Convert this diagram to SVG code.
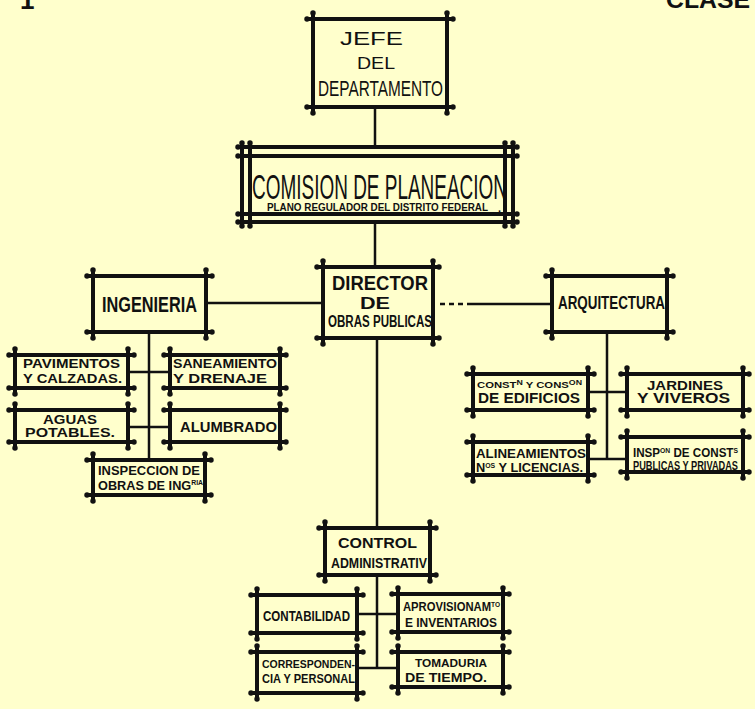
<svg xmlns="http://www.w3.org/2000/svg" width="755" height="709" viewBox="0 0 755 709">
<style>
.f{fill:none;stroke:#111;stroke-width:4;marker-start:url(#dot);marker-mid:url(#dot);marker-end:url(#dot)}
.c{fill:none;stroke:#111;stroke-width:2.5}
.t{font-family:"Liberation Sans","DejaVu Sans",sans-serif;fill:#111;font-weight:bold}
.n{font-weight:normal}
.sup{font-size:7px}
</style>
<defs>
<marker id="dot" viewBox="-2 -2 4 4" markerWidth="1.7" markerHeight="1.7" markerUnits="strokeWidth" orient="auto">
<circle cx="0" cy="0" r="1.6" fill="#111"/>
</marker>
</defs>
<rect x="0" y="0" width="755" height="709" fill="#ffffcc"/>
<text class="t" x="20" y="9" font-size="26">1</text>
<text class="t" x="666" y="8" font-size="24" textLength="84" lengthAdjust="spacingAndGlyphs">CLASE</text>

<g id="connectors">
<path class="c" d="M375,107 V147 M375,222 V267"/>
<path class="c" d="M206,303 H323"/>
<path class="c" d="M440,304 H470" stroke-dasharray="5,4" stroke-width="1.4"/>
<path class="c" d="M470,304 H552" stroke-width="1.3"/>
<path class="c" d="M149,332 V460 M128,372 H170 M128,427 H170"/>
<path class="c" d="M607,332 V459 M588,392 H627 M588,459 H627"/>
<path class="c" d="M377,338 V528 M377,575 V668 M357,614 H398 M357,668 H398"/>
</g>

<g id="jefe">
<path class="f" d="M307,19 H453 M307,107 H453 M313,13 V113 M447,13 V113"/>
<text class="t n" x="340" y="45" font-size="18" textLength="63" lengthAdjust="spacingAndGlyphs">JEFE</text>
<text class="t n" x="357" y="69" font-size="16" textLength="38" lengthAdjust="spacingAndGlyphs">DEL</text>
<text class="t n" x="318" y="96" font-size="22" textLength="125" lengthAdjust="spacingAndGlyphs">DEPARTAMENTO</text>
</g>

<g id="comision">
<path class="f" d="M238,147 H517 M238,222 H517 M242,143 V226 M513,143 V226"/>
<path class="f" d="M238,156 H517 M238,214 H517 M250,143 V226 M505,143 V226"/>
<text class="t n" x="252" y="199" font-size="35" textLength="255" lengthAdjust="spacingAndGlyphs">COMISION DE PLANEACION</text>
<text class="t" x="267" y="211" font-size="11" textLength="221" lengthAdjust="spacingAndGlyphs">PLANO REGULADOR DEL DISTRITO FEDERAL</text>
<text class="t" x="498" y="212" font-size="11">.</text>
</g>

<g id="ingenieria">
<path class="f" d="M87,276 H212 M87,332 H212 M93,270 V338 M206,270 V338"/>
<text class="t" x="102" y="312" font-size="22" textLength="95" lengthAdjust="spacingAndGlyphs">INGENIERIA</text>
</g>

<g id="director">
<path class="f" d="M317,267 H439 M317,338 H439 M323,261 V344 M433,261 V344"/>
<text class="t" x="332" y="290" font-size="20" textLength="96" lengthAdjust="spacingAndGlyphs">DIRECTOR</text>
<text class="t" x="360" y="309" font-size="17" textLength="30" lengthAdjust="spacingAndGlyphs">DE</text>
<text class="t" x="328" y="327" font-size="16" textLength="104" lengthAdjust="spacingAndGlyphs">OBRAS PUBLICAS</text>
</g>

<g id="arquitectura">
<path class="f" d="M546,276 H673 M546,332 H673 M552,270 V338 M667,270 V338"/>
<text class="t" x="558" y="309" font-size="19" textLength="107" lengthAdjust="spacingAndGlyphs">ARQUITECTURA</text>
</g>

<g id="pavimentos">
<path class="f" d="M9,355 H134 M9,388 H134 M15,349 V394 M128,349 V394"/>
<text class="t" x="23" y="368" font-size="12" textLength="97" lengthAdjust="spacingAndGlyphs">PAVIMENTOS</text>
<text class="t" x="23" y="383" font-size="12" textLength="99" lengthAdjust="spacingAndGlyphs">Y CALZADAS.</text>
</g>

<g id="saneamiento">
<path class="f" d="M164,355 H286 M164,388 H286 M170,349 V394 M280,349 V394"/>
<text class="t" x="173" y="368" font-size="12" textLength="104" lengthAdjust="spacingAndGlyphs">SANEAMIENTO</text>
<text class="t" x="173" y="383" font-size="12" textLength="94" lengthAdjust="spacingAndGlyphs">Y DRENAJE</text>
</g>

<g id="aguas">
<path class="f" d="M9,410 H134 M9,442 H134 M15,404 V448 M128,404 V448"/>
<text class="t" x="43" y="424" font-size="12" textLength="54" lengthAdjust="spacingAndGlyphs">AGUAS</text>
<text class="t" x="25" y="437" font-size="12" textLength="90" lengthAdjust="spacingAndGlyphs">POTABLES.</text>
</g>

<g id="alumbrado">
<path class="f" d="M164,410 H286 M164,442 H286 M170,404 V448 M280,404 V448"/>
<text class="t" x="180" y="432" font-size="14" textLength="97" lengthAdjust="spacingAndGlyphs">ALUMBRADO</text>
</g>

<g id="inspeccion">
<path class="f" d="M87,460 H211 M87,495 H211 M93,454 V501 M205,454 V501"/>
<text class="t" x="98" y="475" font-size="13" textLength="102" lengthAdjust="spacingAndGlyphs">INSPECCION DE</text>
<text class="t" x="98" y="490" font-size="13" textLength="105" lengthAdjust="spacingAndGlyphs">OBRAS DE ING<tspan class="sup" dy="-5">RIA</tspan></text>
</g>

<g id="construccion">
<path class="f" d="M467,374 H594 M467,410 H594 M473,368 V416 M588,368 V416"/>
<text class="t" x="477" y="388" font-size="9" textLength="105" lengthAdjust="spacingAndGlyphs">CONST<tspan class="sup" dy="-3">N</tspan><tspan dy="3"> Y CONS</tspan><tspan class="sup" dy="-3">ON</tspan></text>
<text class="t" x="478" y="403" font-size="14" textLength="102" lengthAdjust="spacingAndGlyphs">DE EDIFICIOS</text>
</g>

<g id="jardines">
<path class="f" d="M621,374 H749 M621,410 H749 M627,368 V416 M743,368 V416"/>
<text class="t" x="647" y="390" font-size="12" textLength="76" lengthAdjust="spacingAndGlyphs">JARDINES</text>
<text class="t" x="637" y="403" font-size="14" textLength="93" lengthAdjust="spacingAndGlyphs">Y VIVEROS</text>
</g>

<g id="alineamientos">
<path class="f" d="M467,442 H594 M467,475 H594 M473,436 V481 M588,436 V481"/>
<text class="t" x="476" y="458" font-size="12" textLength="110" lengthAdjust="spacingAndGlyphs">ALINEAMIENTOS</text>
<text class="t" x="476" y="472" font-size="13" textLength="107" lengthAdjust="spacingAndGlyphs">N<tspan class="sup" dy="-4">OS</tspan><tspan dy="4"> Y LICENCIAS.</tspan></text>
</g>

<g id="inspeccion-const">
<path class="f" d="M621,437 H749 M621,472 H749 M627,431 V478 M743,431 V478"/>
<text class="t" x="633" y="457" font-size="12" textLength="105" lengthAdjust="spacingAndGlyphs">INSP<tspan class="sup" dy="-4">ON</tspan><tspan dy="4"> DE CONST</tspan><tspan class="sup" dy="-4">S</tspan></text>
<text class="t" x="633" y="470" font-size="12" textLength="105" lengthAdjust="spacingAndGlyphs">PUBLICAS Y PRIVADAS</text>
</g>

<g id="control">
<path class="f" d="M319,528 H436 M319,575 H436 M325,522 V581 M430,522 V581"/>
<text class="t" x="338" y="548" font-size="15" textLength="79" lengthAdjust="spacingAndGlyphs">CONTROL</text>
<text class="t" x="331" y="568" font-size="15" textLength="96" lengthAdjust="spacingAndGlyphs">ADMINISTRATIV</text>
</g>

<g id="contabilidad">
<path class="f" d="M251,595 H363 M251,633 H363 M257,589 V639 M357,589 V639"/>
<text class="t" x="263" y="621" font-size="15" textLength="87" lengthAdjust="spacingAndGlyphs">CONTABILIDAD</text>
</g>

<g id="aprovisionamiento">
<path class="f" d="M392,594 H509 M392,632 H509 M398,588 V638 M503,588 V638"/>
<text class="t" x="403" y="611" font-size="12" textLength="97" lengthAdjust="spacingAndGlyphs">APROVISIONAM<tspan class="sup" dy="-4">TO</tspan></text>
<text class="t" x="405" y="627" font-size="13" textLength="92" lengthAdjust="spacingAndGlyphs">E INVENTARIOS</text>
</g>

<g id="correspondencia">
<path class="f" d="M251,652 H363 M251,693 H363 M257,646 V699 M357,646 V699"/>
<text class="t" x="262" y="668" font-size="11" textLength="93" lengthAdjust="spacingAndGlyphs">CORRESPONDEN-</text>
<text class="t" x="262" y="683" font-size="13" textLength="93" lengthAdjust="spacingAndGlyphs">CIA Y PERSONAL</text>
</g>

<g id="tomaduria">
<path class="f" d="M392,652 H509 M392,687 H509 M398,646 V693 M503,646 V693"/>
<text class="t" x="415" y="667" font-size="10" textLength="72" lengthAdjust="spacingAndGlyphs">TOMADURIA</text>
<text class="t" x="405" y="682" font-size="13" textLength="82" lengthAdjust="spacingAndGlyphs">DE TIEMPO.</text>
</g>
</svg>
